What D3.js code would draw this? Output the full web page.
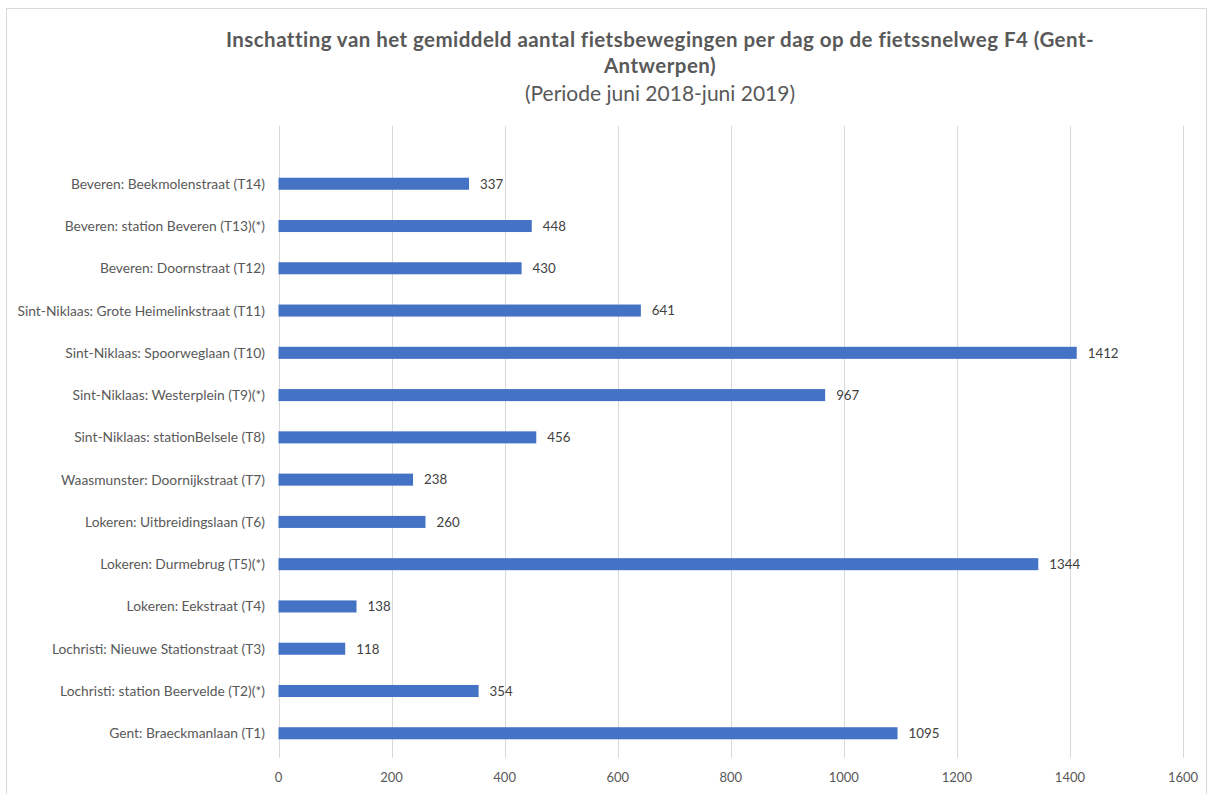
<!DOCTYPE html>
<html>
<head>
<meta charset="utf-8">
<script src="https://cdn.jsdelivr.net/npm/d3@7"></script>
<style>
  html, body { margin: 0; padding: 0; background: #fff; }
  svg { display: block; font-family: Lato, "Open Sans", sans-serif; }
</style>
</head>
<body>
<svg id="chart" width="1213" height="794"></svg>
<script>
// data, bottom to top as in the picture
const locations = [
  "Gent: Braeckmanlaan (T1)",
  "Lochristi: station Beervelde (T2)(*)",
  "Lochristi: Nieuwe Stationstraat (T3)",
  "Lokeren: Eekstraat (T4)",
  "Lokeren: Durmebrug (T5)(*)",
  "Lokeren: Uitbreidingslaan (T6)",
  "Waasmunster: Doornijkstraat (T7)",
  "Sint-Niklaas: stationBelsele (T8)",
  "Sint-Niklaas: Westerplein (T9)(*)",
  "Sint-Niklaas: Spoorweglaan (T10)",
  "Sint-Niklaas: Grote Heimelinkstraat (T11)",
  "Beveren: Doornstraat (T12)",
  "Beveren: station Beveren (T13)(*)",
  "Beveren: Beekmolenstraat (T14)"
];
const counts = [1095, 354, 118, 138, 1344, 260, 238, 456, 967, 1412, 641, 430, 448, 337];
const xTicks = [0, 200, 400, 600, 800, 1000, 1200, 1400, 1600];

const titleLines = [
  "Inschatting van het gemiddeld aantal fietsbewegingen per dag op de fietssnelweg F4 (Gent-",
  "Antwerpen)"
];
const subtitle = "(Periode juni 2018-juni 2019)";

const svg = d3.select("#chart");
const textColor = "#595959";
const gridColor = "#d9d9d9";

// chart frame
svg.append("rect")
  .attr("x", 6.5).attr("y", 8.5)
  .attr("width", 1200).attr("height", 800)
  .attr("fill", "#fff")
  .attr("stroke", "#d9d9d9");

const x = d3.scaleLinear().domain([0, 1600]).range([278.5, 1183]);
const y = d3.scaleBand()
  .domain(locations.slice().reverse())
  .range([162.6, 754.4])
  .paddingInner(0.715)
  .paddingOuter(0.3575);

const gridTop = 126, gridBottom = 758;

// gridlines
svg.append("g")
  .selectAll("line")
  .data(xTicks)
  .join("line")
  .attr("x1", d => Math.round(x(d)) + 0.5)
  .attr("x2", d => Math.round(x(d)) + 0.5)
  .attr("y1", gridTop)
  .attr("y2", gridBottom)
  .attr("stroke", gridColor)
  .attr("stroke-width", 1);

// x tick labels
svg.append("g")
  .selectAll("text")
  .data(xTicks)
  .join("text")
  .attr("x", d => x(d))
  .attr("y", 782)
  .attr("text-anchor", "middle")
  .attr("font-size", 13)
  .attr("fill", textColor)
  .text(d => d);

// bars
const rows = locations.map((name, i) => ({ name, value: counts[i] }));

svg.append("g")
  .selectAll("rect")
  .data(rows)
  .join("rect")
  .attr("x", x(0))
  .attr("y", d => y(d.name))
  .attr("width", d => x(d.value) - x(0))
  .attr("height", y.bandwidth())
  .attr("fill", "#4472c4");

// value labels
svg.append("g")
  .selectAll("text")
  .data(rows)
  .join("text")
  .attr("x", d => x(d.value) + 11)
  .attr("y", d => y(d.name) + y.bandwidth() / 2)
  .attr("dy", "0.36em")
  .attr("font-size", 13.3)
  .attr("fill", "#404040")
  .text(d => d.value);

// category labels
svg.append("g")
  .selectAll("text")
  .data(rows)
  .join("text")
  .attr("x", 265)
  .attr("y", d => y(d.name) + y.bandwidth() / 2)
  .attr("dy", "0.36em")
  .attr("text-anchor", "end")
  .attr("font-size", 13.8)
  .attr("fill", textColor)
  .text(d => d.name);

// title
const title = svg.append("text")
  .attr("text-anchor", "middle")
  .attr("fill", textColor);
titleLines.forEach((line, i) => {
  title.append("tspan")
    .attr("x", 660)
    .attr("y", 47 + i * 26)
    .attr("font-size", 20.5)
    .attr("font-weight", "bold")
    .attr("letter-spacing", 0.45)
    .text(line);
});
svg.append("text")
  .attr("x", 660)
  .attr("y", 101)
  .attr("text-anchor", "middle")
  .attr("font-size", 21)
  .attr("fill", textColor)
  .text(subtitle);
</script>
</body>
</html>
